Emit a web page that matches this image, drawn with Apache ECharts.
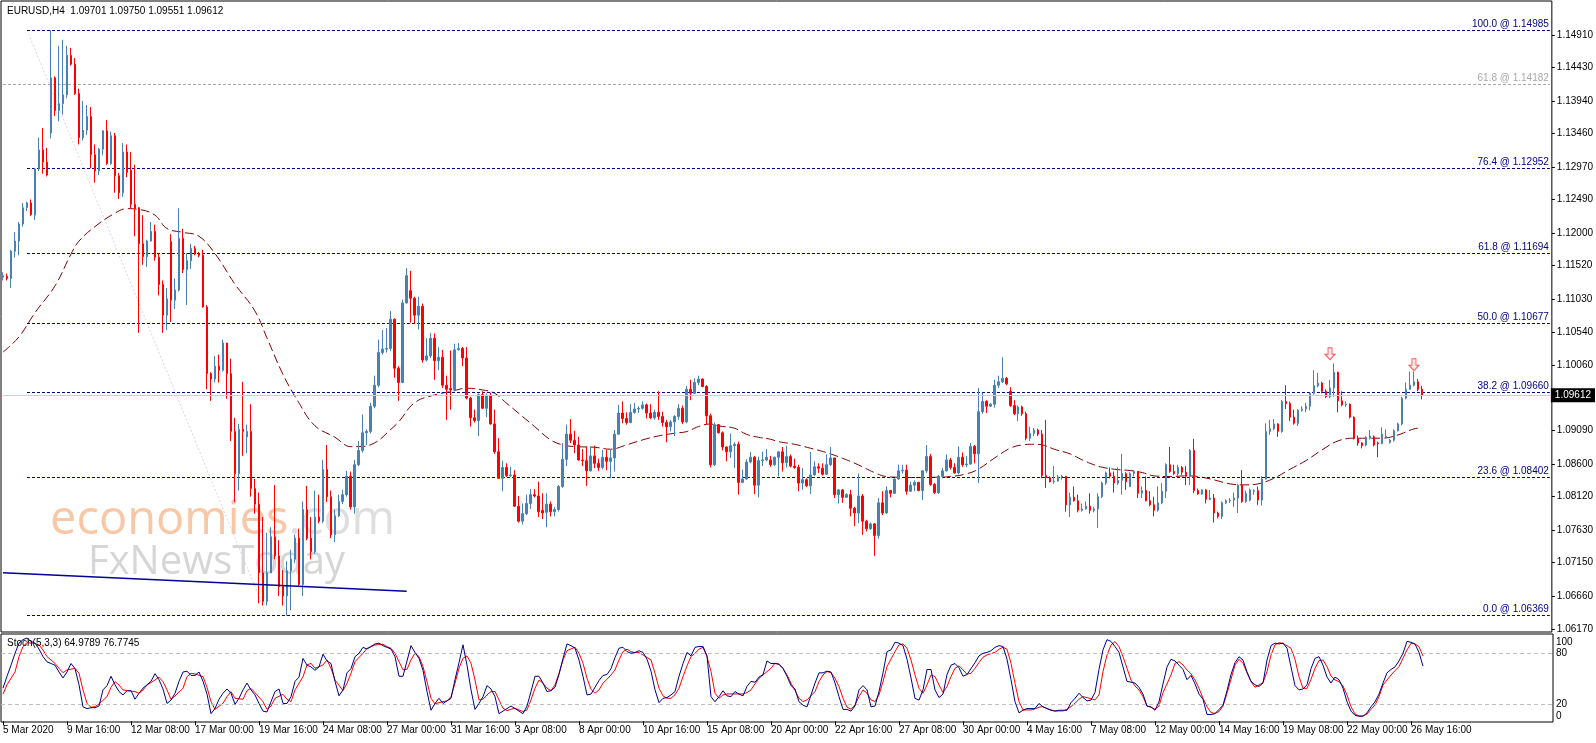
<!DOCTYPE html>
<html><head><meta charset="utf-8">
<script src="https://cdn.jsdelivr.net/npm/echarts@6/dist/echarts.min.js"></script>
<style>html,body{margin:0;padding:0;background:#fff}#c{width:1596px;height:743px}</style>
</head><body><div id="c"></div>
<script>
// ---------- DATA (EURUSD H4, 5 Mar 2020 - 27 May 2020) ----------
const xTickLabels = ["5 Mar 2020","9 Mar 16:00","12 Mar 08:00","17 Mar 00:00","19 Mar 16:00","24 Mar 08:00","27 Mar 00:00","31 Mar 16:00","3 Apr 08:00","8 Apr 00:00","10 Apr 16:00","15 Apr 08:00","20 Apr 00:00","22 Apr 16:00","27 Apr 08:00","30 Apr 00:00","4 May 16:00","7 May 08:00","12 May 00:00","14 May 16:00","19 May 08:00","22 May 00:00","26 May 16:00"];
const priceTicks = [1.06170,1.06660,1.07150,1.07630,1.08120,1.08600,1.09090,1.09580,1.10060,1.10540,1.11030,1.11520,1.12000,1.12490,1.12970,1.13460,1.13940,1.14430,1.14910];
const stochTicks = [0,20,80,100];

const opens = [
1.1135,1.1136,1.1133,1.1173,1.1188,1.1213,1.1237,1.1244,1.1226,1.1294,
1.1322,1.1304,1.1347,1.1428,1.1380,1.1390,1.1403,1.1461,1.1448,1.1405,
1.1340,1.1351,1.1371,1.1315,1.1291,1.1323,1.1350,1.1302,1.1343,1.1284,
1.1259,1.1319,1.1292,1.1242,1.1237,1.1184,1.1165,1.1188,1.1202,1.1164,
1.1124,1.1079,1.1187,1.1101,1.1116,1.1192,1.1146,1.1159,1.1177,1.1169,
1.1167,1.1091,1.0993,1.0985,1.1004,1.0998,1.1038,1.0993,1.0908,1.0846,
1.0911,1.0900,1.0908,1.0824,1.0801,1.0700,1.0658,1.0700,1.0753,1.0725,
1.0680,1.0666,1.0703,1.0720,1.0751,1.0683,1.0793,1.0751,1.0731,1.0782,
1.0776,1.0852,1.0812,1.0756,1.0784,1.0805,1.0815,1.0842,1.0797,1.0859,
1.0880,1.0906,1.0908,1.0945,1.0976,1.1024,1.1029,1.1030,1.1073,1.1001,
1.0980,1.1097,1.1115,1.1104,1.1079,1.1092,1.1013,1.1019,1.1045,1.1012,
1.1017,1.0976,1.0971,1.0969,1.1028,1.1030,1.1016,1.0957,1.0928,1.0924,
1.0962,1.0942,1.0960,1.0919,1.0878,1.0839,1.0855,1.0843,1.0844,1.0798,
1.0776,1.0787,1.0802,1.0815,1.0813,1.0792,1.0789,1.0801,1.0790,1.0793,
1.0827,1.0867,1.0904,1.0895,1.0888,1.0866,1.0865,1.0850,1.0872,1.0861,
1.0855,1.0870,1.0864,1.0869,1.0904,1.0935,1.0927,1.0921,1.0936,1.0941,
1.0942,1.0947,1.0935,1.0928,1.0936,1.0930,1.0921,1.0915,1.0922,1.0930,
1.0942,1.0922,1.0970,1.0964,1.0980,1.0985,1.0974,1.0931,1.0859,1.0918,
1.0906,1.0885,1.0878,1.0887,1.0889,1.0833,1.0838,1.0863,1.0870,1.0829,
1.0865,1.0866,1.0866,1.0859,1.0870,1.0878,1.0862,1.0871,1.0857,1.0855,
1.0832,1.0837,1.0828,1.0844,1.0856,1.0854,1.0845,1.0859,1.0869,1.0815,
1.0822,1.0811,1.0815,1.0795,1.0788,1.0813,1.0776,1.0765,1.0772,1.0755,
1.0803,1.0788,1.0821,1.0817,1.0838,1.0850,1.0851,1.0820,1.0829,1.0833,
1.0821,1.0850,1.0871,1.0830,1.0818,1.0842,1.0850,1.0866,1.0855,1.0847,
1.0870,1.0859,1.0860,1.0886,1.0875,1.0937,1.0952,1.0945,1.0948,1.0976,
1.0981,1.0986,1.0967,1.0946,1.0934,1.0944,1.0934,1.0898,1.0905,1.0910,
1.0904,1.0843,1.0840,1.0834,1.0835,1.0841,1.0842,1.0800,1.0811,1.0806,
1.0792,1.0794,1.0798,1.0792,1.0794,1.0812,1.0832,1.0847,1.0842,1.0832,
1.0836,1.0846,1.0827,1.0846,1.0849,1.0817,1.0821,1.0806,1.0800,1.0792,
1.0803,1.0820,1.0859,1.0849,1.0846,1.0855,1.0848,1.0842,1.0880,1.0821,
1.0816,1.0822,1.0808,1.0810,1.0788,1.0783,1.0803,1.0806,1.0807,1.0810,
1.0829,1.0805,1.0807,1.0820,1.0821,1.0807,1.0838,1.0908,1.0912,1.0919,
1.0908,1.0952,1.0949,1.0929,1.0920,1.0939,1.0941,1.0945,1.0964,1.0975,
1.0979,1.0967,1.0959,1.0972,1.0995,1.0953,1.0947,1.0948,1.0929,1.0898,
1.0891,1.0888,1.0898,1.0900,1.0891,1.0890,1.0899,1.0892,1.0895,1.0909,
1.0919,1.0957,1.0970,1.0976,1.0981,1.09701];

const closes = [
1.1137,1.1133,1.1173,1.1188,1.1213,1.1237,1.1244,1.1227,1.1294,1.1322,
1.1304,1.1285,1.1428,1.1380,1.1390,1.1403,1.1461,1.1448,1.1405,1.1340,
1.1351,1.1371,1.1315,1.1291,1.1323,1.1350,1.1302,1.1343,1.1284,1.1259,
1.1319,1.1289,1.1242,1.1236,1.1184,1.1165,1.1188,1.1202,1.1164,1.1124,
1.1079,1.1103,1.1101,1.1116,1.1192,1.1146,1.1159,1.1177,1.1169,1.1167,
1.1091,1.0993,1.0985,1.1004,1.0998,1.1038,1.0993,1.0908,1.0846,1.0911,
1.0908,1.0908,1.0824,1.0801,1.0700,1.0658,1.0700,1.0753,1.0725,1.0680,
1.0666,1.0703,1.0720,1.0751,1.0683,1.0793,1.0751,1.0731,1.0782,1.0776,
1.0852,1.0812,1.0756,1.0784,1.0805,1.0815,1.0842,1.0797,1.0859,1.0880,
1.0906,1.0908,1.0945,1.0976,1.1024,1.1029,1.1030,1.1073,1.1001,1.0980,
1.1097,1.1137,1.1104,1.1079,1.1092,1.1013,1.1019,1.1045,1.1012,1.1017,
1.0976,1.0970,1.0969,1.1028,1.1030,1.1016,1.0957,1.0928,1.0924,1.0962,
1.0942,1.0960,1.0919,1.0878,1.0839,1.0855,1.0843,1.0844,1.0798,1.0776,
1.0787,1.0802,1.0815,1.0813,1.0790,1.0788,1.0801,1.0790,1.0793,1.0827,
1.0867,1.0904,1.0895,1.0888,1.0866,1.0865,1.0850,1.0872,1.0861,1.0855,
1.0870,1.0864,1.0869,1.0904,1.0935,1.0927,1.0921,1.0936,1.0941,1.0942,
1.0947,1.0935,1.0928,1.0936,1.0930,1.0921,1.0915,1.0922,1.0930,1.0942,
1.0922,1.0970,1.0964,1.0980,1.0985,1.0974,1.0931,1.0859,1.0918,1.0906,
1.0885,1.0878,1.0887,1.0889,1.0833,1.0838,1.0863,1.0870,1.0829,1.0865,
1.0866,1.0870,1.0859,1.0870,1.0878,1.0862,1.0871,1.0857,1.0855,1.0832,
1.0837,1.0828,1.0844,1.0856,1.0854,1.0845,1.0859,1.0869,1.0815,1.0822,
1.0811,1.0815,1.0795,1.0788,1.0813,1.0776,1.0765,1.0772,1.0755,1.0803,
1.0788,1.0821,1.0817,1.0838,1.0850,1.0851,1.0820,1.0829,1.0833,1.0821,
1.0850,1.0871,1.0830,1.0818,1.0842,1.0850,1.0866,1.0855,1.0847,1.0870,
1.0859,1.0860,1.0886,1.0875,1.0937,1.0952,1.0945,1.0948,1.0976,1.0981,
1.0986,1.0978,1.0946,1.0934,1.0944,1.0934,1.0898,1.0905,1.0910,1.0904,
1.0843,1.0840,1.0834,1.0835,1.0841,1.0842,1.0800,1.0811,1.0806,1.0792,
1.0794,1.0798,1.0792,1.0794,1.0812,1.0832,1.0847,1.0842,1.0832,1.0836,
1.0846,1.0834,1.0846,1.0849,1.0817,1.0821,1.0806,1.0800,1.0792,1.0803,
1.0820,1.0859,1.0849,1.0846,1.0855,1.0848,1.0842,1.0880,1.0821,1.0816,
1.0822,1.0808,1.0810,1.0788,1.0783,1.0803,1.0806,1.0807,1.0810,1.0829,
1.0805,1.0817,1.0822,1.0821,1.0807,1.0838,1.0908,1.0912,1.0919,1.0908,
1.0952,1.0949,1.0929,1.0920,1.0939,1.0941,1.0945,1.0964,1.0975,1.0979,
1.0967,1.0959,1.0972,1.0995,1.0953,1.0947,1.0948,1.0929,1.0898,1.0891,
1.0887,1.0899,1.0901,1.0888,1.0890,1.0904,1.0901,1.0895,1.0909,1.0919,
1.0957,1.0970,1.0976,1.0981,1.0970,1.09612];

const lows = [
1.1130,1.1130,1.1119,1.1164,1.1167,1.1209,1.1232,1.1225,1.1219,1.1291,
1.1287,1.1283,1.1339,1.1372,1.1364,1.1374,1.1398,1.1446,1.1403,1.1330,
1.1336,1.1344,1.1295,1.1274,1.1285,1.1314,1.1300,1.1300,1.1259,1.1250,
1.1253,1.1282,1.1236,1.1195,1.1053,1.1153,1.1150,1.1187,1.1159,1.1108,
1.1053,1.1057,1.1069,1.1088,1.1114,1.1141,1.1094,1.1147,1.1167,1.1164,
1.1090,1.0970,1.0953,1.0980,1.0980,1.0996,1.0956,1.0894,1.0804,1.0821,
1.0872,1.0876,1.0812,1.0787,1.0655,1.0652,1.0652,1.0700,1.0720,1.0666,
1.0652,1.0637,1.0645,1.0714,1.0680,1.0666,1.0748,1.0720,1.0728,1.0773,
1.0773,1.0804,1.0751,1.0745,1.0782,1.0801,1.0812,1.0793,1.0787,1.0857,
1.0877,1.0888,1.0905,1.0942,1.0973,1.1021,1.1024,1.1026,1.0987,1.0953,
1.0979,1.1096,1.1068,1.1066,1.1058,1.1009,1.1011,1.1016,1.0984,1.0998,
1.0972,1.0925,1.0940,1.0967,1.1027,1.1004,1.0955,1.0915,1.0921,1.0901,
1.0941,1.0929,1.0918,1.0875,1.0838,1.0820,1.0841,1.0841,1.0797,1.0774,
1.0771,1.0785,1.0794,1.0811,1.0782,1.0779,1.0767,1.0783,1.0783,1.0790,
1.0825,1.0857,1.0891,1.0876,1.0865,1.0857,1.0828,1.0849,1.0854,1.0850,
1.0852,1.0851,1.0839,1.0849,1.0903,1.0920,1.0918,1.0920,1.0934,1.0935,
1.0940,1.0927,1.0926,1.0925,1.0925,1.0915,1.0892,1.0908,1.0901,1.0925,
1.0919,1.0920,1.0954,1.0963,1.0976,1.0973,1.0918,1.0855,1.0857,1.0905,
1.0880,1.0864,1.0869,1.0854,1.0815,1.0832,1.0837,1.0861,1.0816,1.0811,
1.0857,1.0864,1.0856,1.0857,1.0842,1.0849,1.0855,1.0855,1.0853,1.0820,
1.0822,1.0826,1.0816,1.0843,1.0847,1.0843,1.0844,1.0857,1.0810,1.0802,
1.0803,1.0810,1.0783,1.0769,1.0773,1.0756,1.0761,1.0763,1.0725,1.0750,
1.0785,1.0787,1.0811,1.0816,1.0837,1.0846,1.0815,1.0819,1.0820,1.0820,
1.0807,1.0847,1.0828,1.0816,1.0816,1.0839,1.0849,1.0852,1.0846,1.0845,
1.0856,1.0855,1.0859,1.0861,1.0832,1.0934,1.0935,1.0944,1.0943,1.0972,
1.0979,1.0976,1.0944,1.0932,1.0923,1.0931,1.0895,1.0894,1.0901,1.0901,
1.0839,1.0825,1.0833,1.0831,1.0834,1.0837,1.0790,1.0782,1.0805,1.0789,
1.0790,1.0793,1.0787,1.0789,1.0766,1.0810,1.0829,1.0839,1.0818,1.0829,
1.0815,1.0822,1.0826,1.0842,1.0810,1.0810,1.0805,1.0798,1.0783,1.0790,
1.0801,1.0810,1.0847,1.0844,1.0843,1.0844,1.0829,1.0829,1.0817,1.0815,
1.0815,1.0802,1.0807,1.0774,1.0780,1.0779,1.0801,1.0803,1.0797,1.0788,
1.0803,1.0803,1.0805,1.0815,1.0800,1.0799,1.0837,1.0903,1.0910,1.0900,
1.0906,1.0941,1.0923,1.0918,1.0916,1.0937,1.0936,1.0939,1.0962,1.0973,
1.0964,1.0957,1.0957,1.0959,1.0936,1.0945,1.0944,1.0927,1.0896,1.0887,
1.0883,1.0886,1.0896,1.0886,1.0870,1.0889,1.0898,1.0890,1.0893,1.0908,
1.0917,1.0955,1.0969,1.0974,1.0967,1.09551];

const highs = [
1.1142,1.1140,1.1175,1.1201,1.1216,1.1244,1.1246,1.1249,1.1295,1.1340,
1.1354,1.1325,1.1498,1.1430,1.1475,1.1484,1.1475,1.1472,1.1457,1.1412,
1.1394,1.1388,1.1385,1.1330,1.1325,1.1351,1.1366,1.1349,1.1347,1.1288,
1.1332,1.1330,1.1319,1.1300,1.1238,1.1226,1.1190,1.1216,1.1212,1.1170,
1.1130,1.1119,1.1198,1.1133,1.1236,1.1206,1.1170,1.1184,1.1181,1.1172,
1.1175,1.1094,1.0995,1.1019,1.1021,1.1043,1.1038,1.1015,1.0928,1.0919,
1.0981,1.0918,1.0948,1.0838,1.0818,1.0782,1.0759,1.0767,1.0829,1.0748,
1.0704,1.0717,1.0734,1.0756,1.0765,1.0805,1.0828,1.0782,1.0821,1.0815,
1.0866,1.0888,1.0821,1.0793,1.0815,1.0822,1.0850,1.0849,1.0866,1.0894,
1.0933,1.0911,1.0950,1.0990,1.1043,1.1057,1.1060,1.1085,1.1074,1.1004,
1.1102,1.1148,1.1144,1.1106,1.1106,1.1096,1.1045,1.1053,1.1052,1.1032,
1.1028,1.0990,1.1027,1.1037,1.1038,1.1032,1.1032,1.0959,1.0940,1.0964,
1.0967,1.0964,1.0965,1.0940,1.0898,1.0865,1.0861,1.0856,1.0851,1.0813,
1.0802,1.0815,1.0823,1.0823,1.0834,1.0817,1.0817,1.0805,1.0797,1.0829,
1.0891,1.0918,1.0926,1.0909,1.0900,1.0882,1.0886,1.0886,1.0887,1.0868,
1.0881,1.0881,1.0881,1.0910,1.0947,1.0952,1.0936,1.0948,1.0950,1.0945,
1.0952,1.0949,1.0948,1.0940,1.0967,1.0937,1.0925,1.0925,1.0932,1.0948,
1.0946,1.0975,1.0984,1.0986,1.0990,1.0986,1.0976,1.0934,1.0921,1.0918,
1.0908,1.0886,1.0905,1.0892,1.0893,1.0852,1.0867,1.0878,1.0872,1.0871,
1.0878,1.0882,1.0872,1.0871,1.0879,1.0885,1.0887,1.0874,1.0868,1.0859,
1.0854,1.0839,1.0878,1.0864,1.0861,1.0861,1.0874,1.0885,1.0869,1.0823,
1.0823,1.0817,1.0822,1.0797,1.0846,1.0816,1.0778,1.0774,1.0773,1.0810,
1.0820,1.0827,1.0822,1.0839,1.0859,1.0859,1.0859,1.0834,1.0836,1.0834,
1.0851,1.0888,1.0875,1.0832,1.0844,1.0854,1.0874,1.0869,1.0861,1.0886,
1.0877,1.0872,1.0891,1.0888,1.0972,1.0965,1.0954,1.0950,1.0984,1.0990,
1.1017,1.0988,1.0973,1.0954,1.0946,1.0946,1.0937,1.0915,1.0913,1.0912,
1.0910,1.0925,1.0842,1.0857,1.0844,1.0844,1.0842,1.0818,1.0827,1.0815,
1.0802,1.0805,1.0817,1.0797,1.0817,1.0834,1.0849,1.0855,1.0849,1.0855,
1.0875,1.0848,1.0848,1.0851,1.0849,1.0827,1.0842,1.0820,1.0812,1.0827,
1.0832,1.0861,1.0885,1.0859,1.0859,1.0857,1.0857,1.0882,1.0897,1.0824,
1.0823,1.0823,1.0822,1.0816,1.0790,1.0805,1.0808,1.0810,1.0818,1.0831,
1.0851,1.0821,1.0824,1.0823,1.0827,1.0842,1.0920,1.0925,1.0926,1.0920,
1.0954,1.0976,1.0952,1.0940,1.0941,1.0945,1.0950,1.0965,1.0998,1.0994,
1.0981,1.0970,1.0984,1.1008,1.0996,1.0967,1.0952,1.0949,1.0930,1.0902,
1.0892,1.0901,1.0910,1.0902,1.0893,1.0914,1.0911,1.0897,1.0911,1.0921,
1.0959,1.0980,1.0996,1.0996,1.0985,1.09750];

// moving average (dark red dashed) read at [bar index, price]
const maPoints = [[0,1.10246],[4,1.10471],[8,1.10826],[13,1.1122],[17,1.11687],[19,1.11878],[23,1.12092],[28,1.12289],[31,1.12356],[34,1.12345],[38,1.12261],[41,1.12064],[45,1.12008],[49,1.11951],[53,1.11698],[58,1.11248],[63,1.10854],[66,1.1046],[70,1.09925],[74,1.09503],[78,1.09165],[83,1.08996],[87,1.08856],[89,1.08856],[93,1.08912],[97,1.09109],[99,1.09221],[103,1.09503],[108,1.09617],[112,1.09666],[116,1.09715],[120,1.0969],[123,1.09641],[126,1.09494],[129,1.09347],[133,1.09151],[137,1.08955],[140,1.08882],[143,1.08857],[148,1.08847],[152,1.08818],[156,1.08882],[160,1.08955],[164,1.09014],[168,1.09053],[171,1.09077],[174,1.09151],[177,1.0919],[179,1.09161],[183,1.09127],[186,1.09038],[189,1.08994],[192,1.08965],[194,1.0893],[198,1.08891],[202,1.08833],[206,1.08769],[210,1.08686],[214,1.08588],[218,1.08475],[221,1.08416],[224,1.08406],[228,1.08401],[233,1.08406],[237,1.08416],[241,1.08455],[244,1.08524],[248,1.08686],[252,1.08833],[255,1.08881],[258,1.08891],[260,1.08882],[263,1.08818],[267,1.08749],[270,1.08661],[273,1.08588],[275,1.08553],[278,1.08524],[282,1.08504],[285,1.08475],[288,1.08426],[292,1.08416],[296,1.08426],[299,1.08416],[303,1.08367],[307,1.08308],[311,1.08294],[314,1.08308],[318,1.08392],[322,1.08524],[326,1.08651],[330,1.08808],[334,1.0894],[338,1.0898],[342,1.0898],[345,1.0898],[349,1.09028],[353,1.09117],[355,1.0913]];

// Fibonacci levels
const fibValues = [1.14985,1.12952,1.11694,1.10677,1.09660,1.08402,1.06369];
const fibNames  = ["100.0","76.4","61.8","50.0","38.2","23.6","0.0"];
const fib2Value = 1.14182, fib2Name = "61.8";
const fibDiagonal = [[6,1.14985],[66,1.06369]];
const trendLine = [[0,1.0700],[101,1.0673]];
const bidPrice = 1.09612;
const arrowPoints = [[332,1.10223],[353,1.10061]];

// Stochastic(5,3,3): %K per bar, %D read at [bar, value]
const stochK = [
39,53,66,80,92,96,98,94,92,85, 76,70,68,66,58,51,58,68,62,43,
17,15,16,16,18,37,42,53,43,35, 31,36,36,26,33,39,43,47,56,49,
38,21,25,33,47,58,59,54,54,58, 47,32,9,15,26,33,38,33,20,27,
37,45,37,31,21,12,11,23,35,38, 21,21,29,47,52,74,66,64,60,64,
79,71,68,47,30,37,57,62,76,80, 87,85,88,91,92,89,87,85,76,53,
53,71,89,81,74,60,35,13,21,27, 21,24,27,49,69,90,66,37,14,21,
29,42,38,29,9,12,15,18,15,12, 9,18,35,53,53,45,35,36,40,55,
74,91,89,86,72,53,31,32,40,48, 54,55,62,75,86,87,82,80,81,83,
81,73,59,37,22,27,28,31,35,53, 68,81,77,87,88,88,77,29,23,29,
36,30,29,35,32,30,41,47,46,52, 55,71,68,68,67,62,53,42,38,23,
19,17,31,45,57,57,59,58,45,29, 14,14,12,18,37,42,37,17,18,35,
57,82,84,93,92,89,73,51,27,25, 37,61,61,37,28,32,55,66,68,63,
53,55,62,69,77,80,81,83,87,89, 88,73,49,23,10,13,15,15,15,21,
17,15,13,12,13,13,13,22,27,33, 28,24,25,34,61,84,96,94,88,81,
64,47,46,45,40,32,18,17,13,23, 44,64,73,71,66,61,49,54,44,32,
26,8,8,9,14,19,36,55,69,76, 72,58,47,43,41,45,72,89,92,91,
92,86,64,42,37,38,43,62,74,76, 66,52,45,52,49,39,23,12,7,6,
6,10,17,23,32,45,57,61,64,71, 80,94,93,91,81,64.98];
const stochD = [[0,32],[1,43],[3,58],[4,76],[5,88],[6,92.5],[8,91.7],[9,89.8],[10,83.9],[11,76.1],[13,68.2],[14,62.3],[15,57.2],[16,60.4],[18,62.3],[19,56.5],[20,36.9],[21,21.2],[22,16.5],[23,17.3],[24,20.4],[26,29],[27,40],[28,46.7],[29,42.7],[30,36.9],[33,34.9],[34,33],[35,36.9],[36,42.7],[38,48.6],[39,51.8],[40,46.7],[41,36.9],[42,25.9],[43,29.8],[45,38.8],[46,52.5],[47,56.5],[48,55.7],[50,52.5],[51,40],[52,23.1],[53,14.1],[55,21.2],[56,29],[57,34.9],[58,27.1],[60,25.9],[61,36.1],[62,38.8],[63,33.7],[65,23.1],[66,14.1],[67,18],[68,27.1],[70,31.8],[71,25.9],[72,23.1],[73,36.9],[75,52.5],[76,66.3],[77,68.2],[78,62.3],[80,66.3],[81,72.1],[82,62.3],[83,48.6],[85,36.1],[86,44.7],[87,56.5],[88,70.2],[90,80],[91,85.9],[92,87.8],[93,89.8],[95,90.6],[96,87.8],[97,85.9],[98,80],[99,70.2],
[100,60.5],[101,61.2],[102,72.2],[103,80.1],[104,76.1],[105,64.4],[106,46.7],[107,27.1],[108,20.5],[109,22],[110,23.2],[111,24],[112,29.1],[113,44.8],[114,62.4],[115,74.2],[116,76.9],[117,68.3],[118,48.7],[119,25.2],[120,26],[121,31.1],[122,35],[123,35],[124,25.2],[125,15.4],[126,12.6],[127,14.2],[128,15.4],[129,13.4],[130,11.5],[131,13.4],[132,25.2],[133,38.9],[134,48.7],[135,44.8],[136,38.9],[137,36.2],[138,42.8],[139,56.5],[140,72.2],[141,83.2],[143,87.1],[144,80.1],[145,68.3],[146,50.7],[147,37.7],[148,33],[149,36.9],[150,44.8],[151,49.5],[152,54.6],[153,60.5],[154,72.2],[155,82],[156,84.8],[157,82],[158,80.8],[159,80.8],[160,78.1],[162,72.2],[163,56.5],[164,38.9],[165,29.9],[166,27.1],[167,27.1],[168,31.1],[169,38.9],[170,52.6],[171,65.2],[172,76.1],[173,80.1],[174,84.8],[175,87.1],[176,76.1],[177,58.5],[178,33],[179,27.1],[180,31.1],[181,32.2],[183,32.2],[185,32.2],[186,33.8],
[187,37],[188,44],[189,50.7],[190,54.6],[192,62.4],[193,68.3],[194,67.5],[195,62.4],[196,54.6],[197,44.8],[198,36.2],[199,27.1],[200,23.2],[201,25.2],[203,35],[204,46.7],[205,54.6],[206,58.5],[207,57.3],[208,50.7],[209,40.9],[210,27.1],[211,16.6],[212,14.2],[213,19.3],[214,29.1],[215,36.9],[216,33],[217,25.2],[218,23.2],[219,31.1],[220,46.7],[221,64.4],[223,82],[224,89.9],[225,91],[226,86],[227,72.2],[228,54.6],[229,38.9],[230,33],[231,42.8],[232,54.6],[233,52.6],[234,42.8],[235,33.8],[236,40.9],[237,52.6],[238,62.4],[239,65.2],[240,60.5],[241,55.4],[242,56.5],[243,62.4],[244,69.1],[245,75.4],[246,78.1],[248,81.2],[249,84.8],[250,87.1],[251,84.8],[252,68.3],[253,44.8],[254,23.2],[255,13.4],[256,13.4],[257,13.4],[258,14.6],[259,16.6],[260,17.3],[261,15],[262,13.4],[263,12.2],[264,12.2],[265,12.2],[266,14.2],[267,17.3],[268,21.3],[269,26],[270,29.1],[271,27.9],[273,25.2],[274,31.1],
[275,58.4],[276,78],[277,89.8],[278,93.7],[279,87.8],[280,76.1],[281,62.3],[282,48.6],[283,41.6],[284,36.9],[285,29],[286,18],[287,16.5],[288,14.1],[289,18],[290,33.7],[292,54.5],[293,68.2],[294,70.2],[295,66.3],[296,60.4],[297,55.7],[298,48.6],[299,38.8],[300,27.1],[301,17.3],[302,10.2],[303,9.4],[304,11.4],[305,18],[306,33],[307,49.4],[308,66.3],[309,72.9],[310,68.2],[311,57.2],[312,46.7],[313,40],[314,42.7],[315,45.5],[316,58.4],[317,78],[318,89.8],[319,92.5],[320,91.7],[322,85.9],[323,72.9],[324,52.5],[325,38.8],[326,38.8],[327,49.4],[328,62.3],[329,71.4],[330,72.1],[331,64.3],[332,53.3],[333,48.6],[334,46.7],[335,41.6],[336,31],[337,17.3],[338,8.6],[339,6.3],[340,6.3],[341,8.6],[342,14.1],[343,19.2],[344,29],[345,42.7],[347,54.5],[348,59.6],[349,64.3],[350,74.1],[351,83.9],[352,91.7],[353,91],[354,87.8],[355,76.77]];

// ---------- CHART ----------
const SLOTS = 388;               // bar slots incl. empty space to the right
const cats = Array.from({length: SLOTS}, (_, i) => String(i));
const ohlc = opens.map((o, i) => [o, closes[i], lows[i], highs[i]]);
const FONT = 'Liberation Sans, Arial, sans-serif';
const LAST = SLOTS - 1;
const showTick = (i) => i % 16 === 0 && i / 16 < xTickLabels.length;

const fibLines = fibValues.map((v, k) => [
  {coord: [fibDiagonal[0][0], v], label: {formatter: fibNames[k] + ' @ ' + v.toFixed(5)}},
  {coord: [LAST, v]}
]);
fibLines.push([
  {coord: [0, fib2Value], lineStyle: {color: '#a9a9a9'}, label: {color: '#a9a9a9', formatter: fib2Name + ' @ ' + fib2Value.toFixed(5)}},
  {coord: [LAST, fib2Value]}
]);

const chart = echarts.init(document.getElementById('c'), null, {renderer: 'canvas', width: 1596, height: 743});
chart.setOption({
  animation: false,
  backgroundColor: '#ffffff',
  textStyle: {fontFamily: FONT},
  grid: [
    {left: 1, top: 1, width: 1552, height: 631, show: true, borderColor: '#000', borderWidth: 1},
    {left: 1, top: 634, width: 1552, height: 88, show: true, borderColor: '#000', borderWidth: 1}
  ],
  xAxis: [
    {type: 'category', gridIndex: 0, data: cats, boundaryGap: true,
     axisLine: {show: false}, axisTick: {show: false}, axisLabel: {show: false}, splitLine: {show: false}},
    {type: 'category', gridIndex: 1, data: cats, boundaryGap: true,
     axisLine: {show: false}, splitLine: {show: false},
     axisTick: {show: true, alignWithLabel: true, length: 4, interval: showTick, lineStyle: {color: '#000'}},
     axisLabel: {show: true, interval: showTick, align: 'left', margin: 3, fontSize: 10, color: '#000', fontFamily: FONT,
       formatter: (v) => xTickLabels[Number(v) / 16] || ''}}
  ],
  yAxis: [
    {type: 'value', gridIndex: 0, position: 'right', min: 1.0613, max: 1.1541, scale: true,
     splitLine: {show: false}, axisLine: {show: false},
     axisTick: {show: true, customValues: priceTicks, length: 3, lineStyle: {color: '#000'}},
     axisLabel: {customValues: priceTicks, margin: 5, fontSize: 10, color: '#000', fontFamily: FONT,
       formatter: (v) => v.toFixed(5)}},
    {type: 'value', gridIndex: 1, position: 'right', min: -0.8, max: 102.7,
     splitLine: {show: false}, axisLine: {show: false}, axisTick: {show: false},
     axisLabel: {customValues: stochTicks, margin: 3, fontSize: 10, color: '#000', fontFamily: FONT,
       formatter: (v) => v === 100 ? '{t|100}' : (v === 0 ? '{b|0}' : String(v)),
       rich: {t: {padding: [11, 0, 0, 0], fontSize: 10, color: '#000', fontFamily: FONT},
              b: {padding: [0, 0, 11, 0], fontSize: 10, color: '#000', fontFamily: FONT}}}}
  ],
  graphic: [
    {type: 'text', z: 0, style: {x: 50, y: 521, text: '{a|economies}{b|.com}', textVerticalAlign: 'middle',
      rich: {a: {fill: '#f7c7a6', fontSize: 47, fontFamily: 'Open Sans'}, b: {fill: '#dedede', fontSize: 47, fontFamily: 'Open Sans'}}}},
    {type: 'text', z: 0, style: {x: 88, y: 563, text: 'FxNewsToday', textVerticalAlign: 'middle',
      fill: '#d6d6d6', fontSize: 40, fontFamily: 'Open Sans'}},
    {type: 'text', z: 100, style: {x: 7, y: 11, text: 'EURUSD,H4  1.09701 1.09750 1.09551 1.09612', textVerticalAlign: 'middle',
      fill: '#000', fontSize: 10, fontFamily: FONT}},
    {type: 'text', z: 100, style: {x: 7, y: 643, text: 'Stoch(5,3,3) 64.9789 76.7745', textVerticalAlign: 'middle',
      fill: '#000', fontSize: 10, fontFamily: FONT}}
  ],
  series: [
    {type: 'candlestick', name: 'EURUSD', xAxisIndex: 0, yAxisIndex: 0, data: ohlc, barWidth: 2, z: 5,
     itemStyle: {color: '#4682b4', color0: '#ff0000', borderColor: '#4682b4', borderColor0: '#ff0000', borderWidth: 1},
     markLine: {silent: true, symbol: ['none', 'none'], animation: false,
       lineStyle: {color: '#000080', type: [3, 2], width: 1},
       label: {show: true, position: 'insideEndTop', distance: 1, color: '#000080', fontSize: 10, fontFamily: FONT},
       data: fibLines}},
    {type: 'line', name: 'trend', xAxisIndex: 0, yAxisIndex: 0, data: trendLine, showSymbol: false, z: 6,
     lineStyle: {color: '#00009c', width: 1.5},
     markLine: {silent: true, symbol: ['none', 'none'], animation: false, z: 10,
       lineStyle: {color: '#a6e0e0', type: 'solid', width: 1},
       label: {show: true, position: 'end', distance: 1, formatter: bidPrice.toFixed(5), color: '#fff', backgroundColor: '#000',
               padding: [2, 4, 2, 4], fontSize: 10, fontFamily: FONT},
       data: [[{coord: [0, bidPrice]}, {coord: [LAST, bidPrice]}]]}},
    {type: 'line', name: 'MA', xAxisIndex: 0, yAxisIndex: 0, data: maPoints, smooth: 0.4, showSymbol: false, z: 4,
     lineStyle: {color: '#800000', width: 1, type: [9, 4]}},
    {type: 'line', name: 'fibo', xAxisIndex: 0, yAxisIndex: 0, data: fibDiagonal, showSymbol: false, z: 3,
     lineStyle: {color: '#d6d6ee', width: 1, type: [2, 2]}},
    {type: 'scatter', name: 'arrows', xAxisIndex: 0, yAxisIndex: 0, data: arrowPoints, z: 7,
     symbol: 'path://M3,0 L7,0 L7,6 L10,6 L5,11 L0,6 L3,6 Z', symbolSize: [10, 12],
     itemStyle: {color: '#ffe4ec', borderColor: '#ff3030', borderWidth: 1}},
    {type: 'line', name: '%K', xAxisIndex: 1, yAxisIndex: 1, data: stochK, showSymbol: false, z: 5,
     lineStyle: {color: '#00008b', width: 1},
     markLine: {silent: true, symbol: ['none', 'none'], label: {show: false},
       lineStyle: {color: '#c0c0c0', type: [4, 3], width: 1},
       data: [{yAxis: 20}, {yAxis: 80}]}},
    {type: 'line', name: '%D', xAxisIndex: 1, yAxisIndex: 1, data: stochD, showSymbol: false, z: 4,
     lineStyle: {color: '#ff0000', width: 1}}
  ]
});
</script></body></html>
